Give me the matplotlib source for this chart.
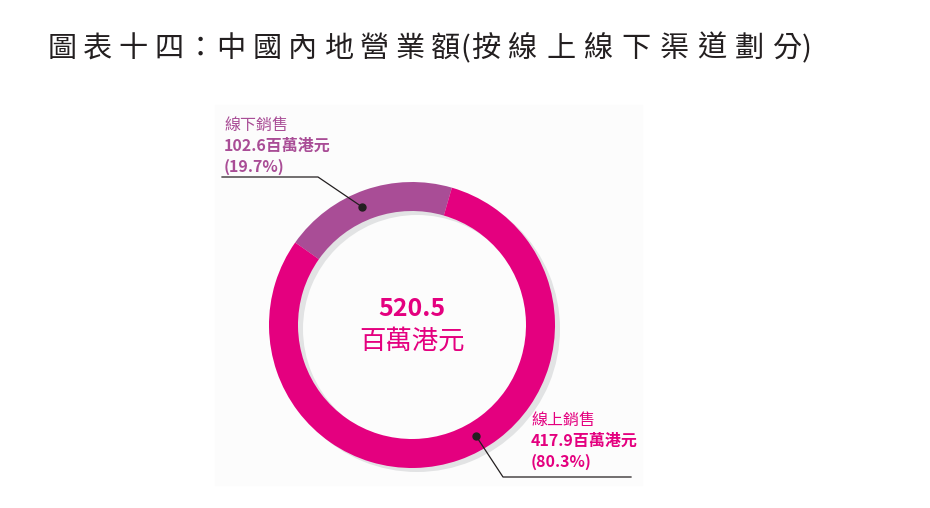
import numpy as np
import matplotlib
matplotlib.use("Agg")
import matplotlib.pyplot as plt
from matplotlib.patches import Wedge, Rectangle

plt.rcParams['font.family'] = ['Noto Sans CJK TC', 'DejaVu Sans']

# data
title = "圖表十四：中國內地營業額(按線上線下渠道劃分)"
channels = ['線下銷售', '線上銷售']
sales = [102.6, 417.9]          # 百萬港元
shares = ['19.7%', '80.3%']
total = 520.5
colors = ['#a94d96', '#e4007f']

W, H = 930, 508
fig = plt.figure(figsize=(W / 100, H / 100), dpi=100)
ax = fig.add_axes([0, 0, 1, 1])

def Y(y):
    # image row -> data y
    return H - y

# faint panel behind the chart
ax.add_patch(Rectangle((215, Y(485)), 427, 380, color='#fcfcfc', zorder=0))

cx, cy = 412, Y(325)
r_out, ring = 143, 29

# gray shadow ring
ax.add_patch(Wedge((cx + 5, cy - 4), r_out, 0, 360, width=ring,
                   color='#e2e3e4', lw=0, zorder=1))

wedges, _ = ax.pie(sales, colors=colors, startangle=73.8, counterclock=True,
                   center=(cx, cy), radius=r_out,
                   wedgeprops=dict(width=ring, linewidth=0))
for w in wedges:
    w.set_zorder(2)

# leader lines with dots
r_mid = r_out - ring / 2
dot_ang = [113, 300]
elbows = [((318, 177), (222, 177)), ((503, 477), (631, 477))]
for ang, (e1, e2) in zip(dot_ang, elbows):
    dx = cx + r_mid * np.cos(np.radians(ang))
    dy = cy + r_mid * np.sin(np.radians(ang))
    ax.plot([dx, e1[0], e2[0]], [dy, Y(e1[1]), Y(e2[1])],
            color='#231f20', lw=0.9, zorder=3)
    ax.plot(dx, dy, 'o', color='#231f20', ms=5, zorder=4)

# labels
label_pos = [(224, 125), (531, 420)]
for (lx, ly), name, val, pct, c in zip(label_pos, channels, sales, shares, colors):
    ax.text(lx, Y(ly), name, color=c, fontsize=11.5, ha='left', va='center')
    ax.text(lx, Y(ly + 21), f"{val:.1f}百萬港元", color=c, fontsize=11.5,
            fontweight='bold', ha='left', va='center')
    ax.text(lx, Y(ly + 42), f"({pct})", color=c, fontsize=11.5,
            fontweight='bold', ha='left', va='center')

# centre total
ax.text(cx, Y(309), f"{total:.1f}", color='#e4007f', fontsize=18,
        fontweight='bold', ha='center', va='center')
ax.text(cx, Y(341), "百萬港元", color='#e4007f', fontsize=19,
        ha='center', va='center')

# title, spaced out character by character
x = 62
pitch = 35.7
for i, ch in enumerate(title):
    ax.text(x, Y(49), ch, fontsize=21, color='#231f20', ha='center', va='center')
    nxt = title[i + 1] if i + 1 < len(title) else ''
    if ch == '(':
        pitch = 37.7
    if '：' in (ch, nxt):
        x += 31
    elif ch in '()' or nxt in '()':
        x += 20
    else:
        x += pitch

ax.set_xlim(0, W)
ax.set_ylim(0, H)
ax.set_aspect('equal')
ax.axis('off')

fig.savefig('out.png', dpi=100, facecolor='white')
